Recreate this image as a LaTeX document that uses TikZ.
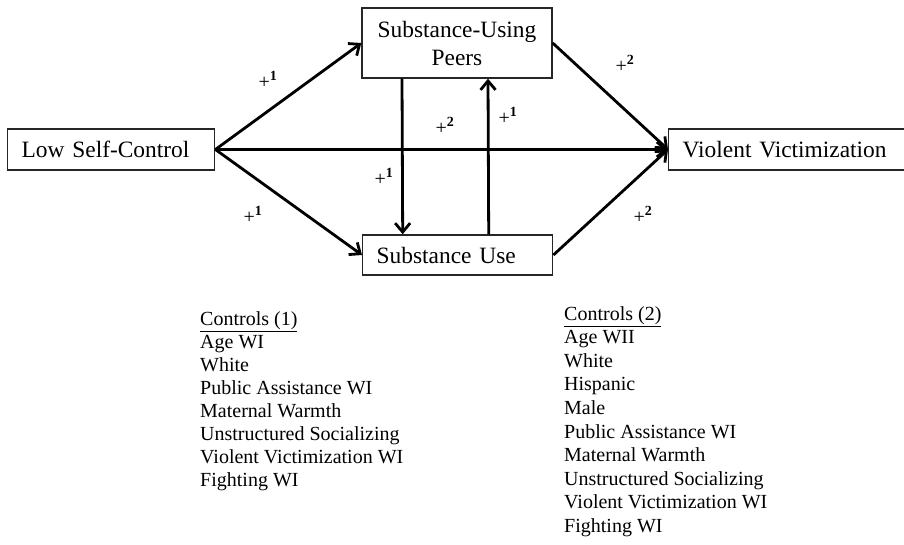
\documentclass[tikz,border=0pt]{standalone}
\usepackage{fontspec}
\setmainfont{Liberation Serif}
\usetikzlibrary{arrows.meta}
\begin{document}
\begin{tikzpicture}[x=1pt,y=-1pt,
  box/.style={draw=black!85, line width=1.4pt, inner ysep=0pt, font=\fontsize{23.4}{28}\selectfont},
  arr/.style={line width=2.8pt, -{Straight Barb[length=9pt,width=15pt,line width=2.8pt]}},
  lab/.style={font=\fontsize{20}{22}\selectfont, inner sep=0pt},
  ctl/.style={align=left, anchor=north west, inner sep=0pt}]
\useasboundingbox (0,0) rectangle (904,544);
\begin{scope}
\clip (0,0) rectangle (904,544);
\node[box, anchor=west, minimum height=41pt, text width=179pt, inner xsep=14pt, align=left] (LSC) at (7,149.5) {Low Self-Control};
\node[box, minimum width=190pt, minimum height=70pt, align=center] (SUP) at (457,43) {Substance-Using\\Peers};
\node[box, anchor=west, minimum height=40pt, text width=162pt, inner xsep=14pt, align=left] (SU) at (362,255) {Substance Use};
\node[box, anchor=west, minimum height=41pt, text width=240pt, inner xsep=14pt, align=left] (VV) at (668,149.5) {Violent Victimization};
\end{scope}
\draw[arr] (LSC.east) -- (SUP.west);
\draw[arr] (LSC.east) -- (SU.west);
\draw[arr] (LSC.east) -- (VV.west);
\draw[arr] (SUP.east) -- (VV.west);
\draw[arr] (SU.east) -- (VV.west);
\draw[arr] ([xshift=-55pt]SUP.south) -- ([xshift=-55pt]SU.north);
\draw[arr] ([xshift=31pt]SU.north) -- ([xshift=31pt]SUP.south);
\node[lab] (l1) at (268,80) {+\textsuperscript{\textbf{1}}};
\node[lab] (l2) at (253,215) {+\textsuperscript{\textbf{1}}};
\node[lab] (l3) at (384,177) {+\textsuperscript{\textbf{1}}};
\node[lab] (l4) at (445,126) {+\textsuperscript{\textbf{2}}};
\node[lab] (l5) at (508,116) {+\textsuperscript{\textbf{1}}};
\node[lab] (l6) at (625,64) {+\textsuperscript{\textbf{2}}};
\node[lab] (l7) at (643,215) {+\textsuperscript{\textbf{2}}};
\node[ctl, font=\fontsize{20}{23}\selectfont] (c1) at (200,311) {\underline{Controls (1)}\\Age WI\\White\\Public Assistance WI\\Maternal Warmth\\Unstructured Socializing\\Violent Victimization WI\\Fighting WI};
\node[ctl, font=\fontsize{20}{23.6}\selectfont] (c2) at (564,306) {\underline{Controls (2)}\\Age WII\\White\\Hispanic\\Male\\Public Assistance WI\\Maternal Warmth\\Unstructured Socializing\\Violent Victimization WI\\Fighting WI};
\end{tikzpicture}
\end{document}
